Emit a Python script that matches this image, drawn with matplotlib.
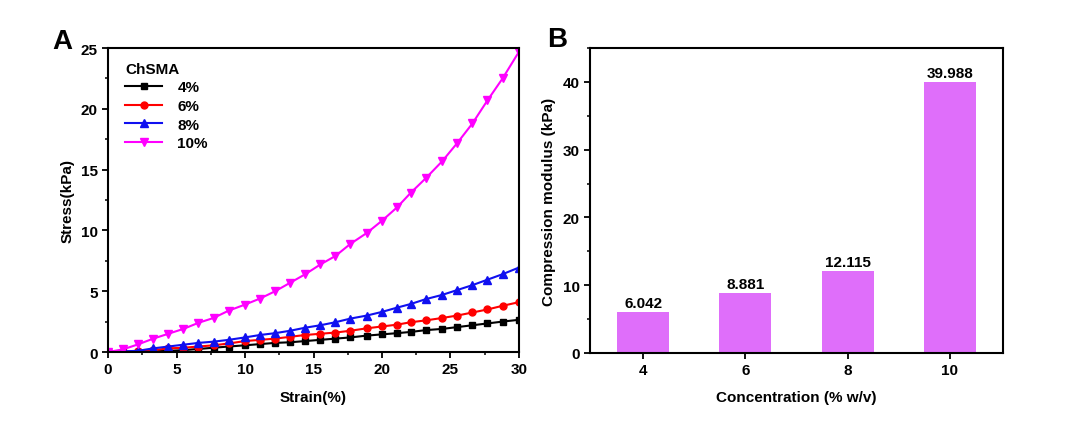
import matplotlib
matplotlib.use("Agg")
import matplotlib.pyplot as plt
from matplotlib.ticker import MultipleLocator

plt.rcParams['font.family'] = ['Liberation Sans', 'DejaVu Sans']
plt.rcParams['font.weight'] = 'bold'
plt.rcParams['axes.labelweight'] = 'bold'

# Panel A data
strain = [0, 1.1, 2.2, 3.3, 4.4, 5.5, 6.6, 7.7, 8.8, 10.0, 11.1, 12.2, 13.3, 14.4,
          15.5, 16.6, 17.7, 18.9, 20.0, 21.1, 22.1, 23.2, 24.4, 25.5, 26.6, 27.7, 28.8, 30.0]
stress_4 = [0, 0, 0.02, 0.05, 0.1, 0.15, 0.25, 0.35, 0.45, 0.55, 0.65, 0.75, 0.8, 0.9,
            1.0, 1.1, 1.2, 1.35, 1.45, 1.55, 1.65, 1.8, 1.9, 2.05, 2.2, 2.35, 2.5, 2.65]
stress_6 = [0, 0.02, 0.08, 0.15, 0.3, 0.35, 0.45, 0.55, 0.7, 0.9, 1.0, 1.1, 1.25, 1.4,
            1.5, 1.6, 1.75, 1.95, 2.1, 2.25, 2.45, 2.6, 2.8, 3.0, 3.25, 3.5, 3.8, 4.1]
stress_8 = [0, 0.05, 0.1, 0.3, 0.45, 0.6, 0.75, 0.85, 1.0, 1.2, 1.4, 1.55, 1.75, 2.0,
            2.2, 2.45, 2.75, 3.0, 3.3, 3.65, 3.95, 4.35, 4.7, 5.1, 5.5, 5.95, 6.4, 6.95]
stress_10 = [0, 0.22, 0.63, 1.1, 1.5, 1.9, 2.4, 2.8, 3.4, 3.9, 4.4, 5.0, 5.7, 6.4,
             7.2, 7.9, 8.9, 9.8, 10.8, 11.9, 13.1, 14.3, 15.7, 17.2, 18.8, 20.7, 22.5, 24.7]
series_labels = ['4%', '6%', '8%', '10%']

# Panel B data
concentrations = ['4', '6', '8', '10']
modulus = [6.042, 8.881, 12.115, 39.988]

fig = plt.figure(figsize=(10.88, 4.27), dpi=100)
axA = fig.add_axes([0.0993, 0.1733, 0.3777, 0.7117])
axB = fig.add_axes([0.5423, 0.171, 0.3796, 0.714])

styles = [('black', 's', 4.5), ('red', 'o', 5), ('#1010F0', '^', 5.5), ('#FF00FF', 'v', 6)]
for ys, lab, (c, m, ms) in zip([stress_4, stress_6, stress_8, stress_10], series_labels, styles):
    axA.plot(strain, ys, color=c, marker=m, markersize=ms, lw=1.5, label=lab)

axA.set_xlim(0, 30)
axA.set_ylim(0, 25)
axA.xaxis.set_major_locator(MultipleLocator(5))
axA.xaxis.set_minor_locator(MultipleLocator(2.5))
axA.yaxis.set_major_locator(MultipleLocator(5))
axA.yaxis.set_minor_locator(MultipleLocator(2.5))
axA.set_xlabel('Strain(%)', fontsize=11, labelpad=10)
axA.set_ylabel('Stress(kPa)', fontsize=11, labelpad=4)
leg = axA.legend(title='ChSMA', loc='upper left', frameon=False, fontsize=11,
                 title_fontproperties={'weight': 'bold', 'size': 11},
                 handlelength=2.4, handletextpad=1.0, labelspacing=0.3,
                 bbox_to_anchor=(0.02, 0.985), borderaxespad=0.2)
leg._legend_box.align = 'left'

xpos = list(range(len(concentrations)))
axB.bar(xpos, modulus, width=0.51, color='#DF6EFA')
for x, v in zip(xpos, modulus):
    axB.text(x, v + 0.3, f'{v:.3f}', ha='center', va='bottom', fontsize=11, fontweight='bold')
axB.set_xticks(xpos)
axB.set_xticklabels(concentrations)
axB.set_xlim(-0.52, 3.52)
axB.set_ylim(0, 45)
axB.yaxis.set_major_locator(MultipleLocator(10))
axB.yaxis.set_minor_locator(MultipleLocator(5))
axB.set_xlabel('Concentration (% w/v)', fontsize=11, labelpad=9)
axB.set_ylabel('Compression modulus (kPa)', fontsize=11, labelpad=5)

for ax in (axA, axB):
    for s in ax.spines.values():
        s.set_linewidth(1.5)
    ax.tick_params(which='major', direction='out', length=4.5, width=1.3, labelsize=11, pad=3)
    ax.tick_params(which='minor', direction='out', length=2.5, width=1.1)
    for t in ax.get_xticklabels() + ax.get_yticklabels():
        t.set_fontweight('bold')

fig.text(62 / 1088, 1 - 42 / 427, 'A', fontsize=20, fontweight='bold', ha='center', va='center')
fig.text(557 / 1088, 1 - 40 / 427, 'B', fontsize=20, fontweight='bold', ha='center', va='center')

fig.savefig('out.png', dpi=100)
